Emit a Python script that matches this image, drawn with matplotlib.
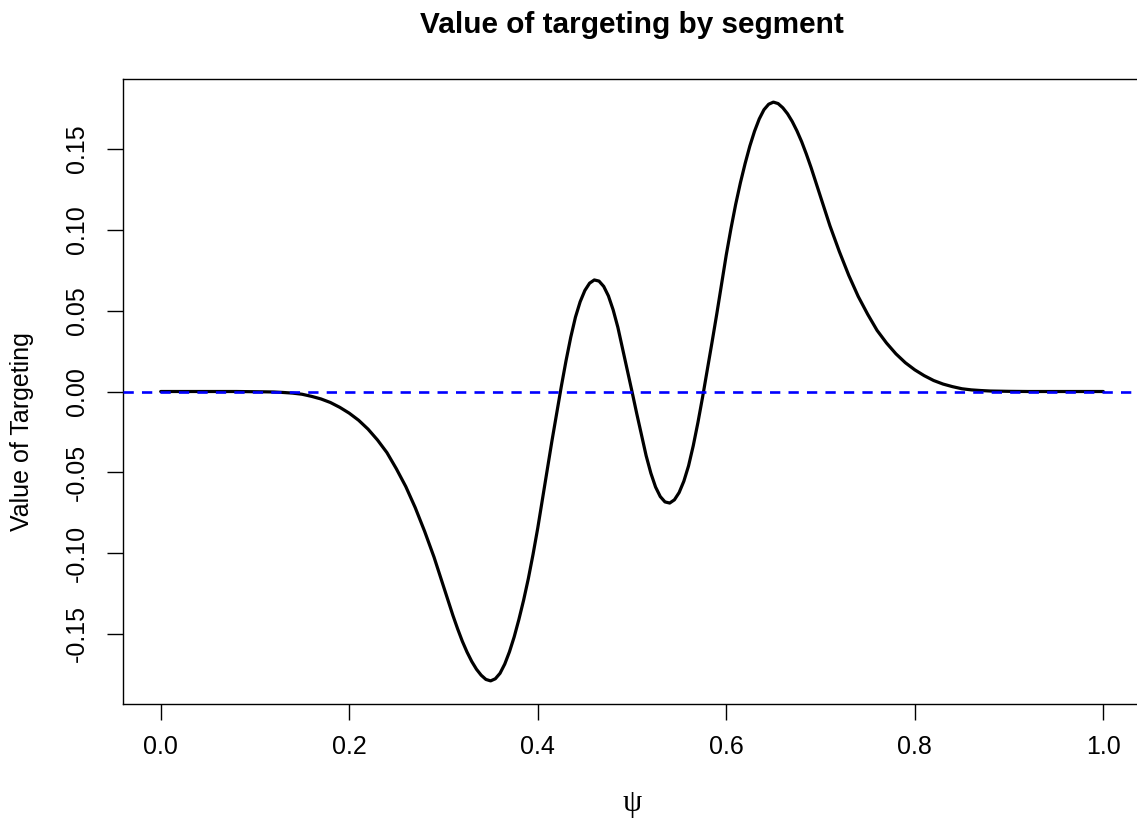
import matplotlib
matplotlib.use("Agg")
import matplotlib.pyplot as plt

plt.rcParams["font.family"] = ["Liberation Sans", "DejaVu Sans"]
plt.rcParams["axes.unicode_minus"] = False

# Segment position psi and the value of targeting at that position
psi = [0.00, 0.02, 0.04, 0.06, 0.08, 0.10, 0.11, 0.12, 0.13, 0.14,
       0.15, 0.16, 0.17, 0.18, 0.19, 0.20, 0.21, 0.22, 0.23, 0.24,
       0.25, 0.26, 0.27, 0.28, 0.29, 0.30, 0.305, 0.31, 0.315, 0.32,
       0.325, 0.33, 0.335, 0.34, 0.345, 0.35, 0.355, 0.36, 0.365, 0.37,
       0.375, 0.38, 0.385, 0.39, 0.395, 0.40, 0.405, 0.41, 0.415, 0.42,
       0.425, 0.43, 0.435, 0.44, 0.445, 0.45, 0.455, 0.46, 0.465, 0.47,
       0.475, 0.48, 0.485, 0.49, 0.495, 0.50,
       0.505, 0.51, 0.515, 0.52, 0.525, 0.53, 0.535, 0.54, 0.545, 0.55,
       0.555, 0.56, 0.565, 0.57, 0.575, 0.58, 0.585, 0.59, 0.595, 0.60,
       0.605, 0.61, 0.615, 0.62, 0.625, 0.63, 0.635, 0.64, 0.645, 0.65,
       0.655, 0.66, 0.665, 0.67, 0.675, 0.68, 0.685, 0.69, 0.695, 0.70,
       0.71, 0.72, 0.73, 0.74, 0.75, 0.76, 0.77, 0.78, 0.79, 0.80,
       0.81, 0.82, 0.83, 0.84, 0.85, 0.86, 0.87, 0.88, 0.89, 0.90,
       0.92, 0.94, 0.96, 0.98, 1.00]

value = [0.0, 0.0, 0.0, 0.0, 0.0, -0.0001, -0.0002, -0.0003, -0.0006, -0.0010,
         -0.0017, -0.0030, -0.0046, -0.0068, -0.0098, -0.0134, -0.0178, -0.0233, -0.0300, -0.0378,
         -0.0478, -0.0588, -0.0718, -0.0865, -0.1025, -0.1205, -0.1296, -0.1385, -0.1468, -0.1545,
         -0.1612, -0.1670, -0.1718, -0.1755, -0.1781, -0.1790, -0.1777, -0.1743, -0.1686, -0.1610,
         -0.1518, -0.1410, -0.1291, -0.1158, -0.1008, -0.0845, -0.0665, -0.0482, -0.0308, -0.0138,
         0.0031, 0.0190, 0.0335, 0.0460, 0.0555, 0.0625, 0.0670, 0.0690, 0.0683, 0.0650,
         0.0591, 0.0505, 0.0397, 0.0265, 0.0136, 0.0,
         -0.0136, -0.0265, -0.0397, -0.0505, -0.0591, -0.0650, -0.0683, -0.0690, -0.0670, -0.0625,
         -0.0555, -0.0460, -0.0335, -0.0190, -0.0031, 0.0138, 0.0308, 0.0482, 0.0665, 0.0845,
         0.1008, 0.1158, 0.1291, 0.1410, 0.1518, 0.1610, 0.1686, 0.1743, 0.1777, 0.1790,
         0.1781, 0.1755, 0.1718, 0.1670, 0.1612, 0.1545, 0.1468, 0.1385, 0.1296, 0.1205,
         0.1025, 0.0865, 0.0718, 0.0588, 0.0478, 0.0378, 0.0300, 0.0233, 0.0178, 0.0134,
         0.0098, 0.0068, 0.0046, 0.0030, 0.0017, 0.0010, 0.0006, 0.0003, 0.0002, 0.0001,
         0.0, 0.0, 0.0, 0.0, 0.0]

x_ticks = [0.0, 0.2, 0.4, 0.6, 0.8, 1.0]
x_tick_labels = ["0.0", "0.2", "0.4", "0.6", "0.8", "1.0"]
y_ticks = [-0.15, -0.10, -0.05, 0.00, 0.05, 0.10, 0.15]
y_tick_labels = ["-0.15", "-0.10", "-0.05", "0.00", "0.05", "0.10", "0.15"]

W, H = 1137, 823
fig = plt.figure(figsize=(W / 100, H / 100), dpi=100)
ax = fig.add_axes([123 / W, (H - 704) / H, (1141 - 123) / W, (704 - 79) / H])

ax.plot(psi, value, color="black", lw=2.3, zorder=2,
        solid_joinstyle="round", solid_capstyle="round")
ax.axhline(0.0, color="#0000FF", lw=1.9, dashes=(3.9, 3.1), zorder=3)

ax.set_xlim(-0.04, 1.04)
ax.set_ylim(-0.1933, 0.1933)

ax.set_xticks(x_ticks)
ax.set_xticklabels(x_tick_labels)
ax.set_yticks(y_ticks)
ax.set_yticklabels(y_tick_labels)
ax.tick_params(axis="both", direction="out", length=11.3, width=1.0,
               labelsize=18, colors="black")
ax.tick_params(axis="x", pad=10.8)
ax.tick_params(axis="y", pad=13)
for lbl in ax.get_yticklabels():
    lbl.set_rotation(90)
    lbl.set_va("center")
    lbl.set_ha("right")

for sp in ax.spines.values():
    sp.set_linewidth(1.0)
    sp.set_color("black")

fig.text(632 / W, 1 - 33.3 / H, "Value of targeting by segment",
         ha="center", va="baseline", fontsize=21.4, fontweight="bold")
fig.text(632 / W, 1 - 803 / H, "\u03c8", ha="center", va="center",
         fontsize=22, family=["Liberation Serif", "DejaVu Serif"])
fig.text(22.5 / W, 391.5 / H, "Value of Targeting", ha="center", va="center",
         rotation=90, fontsize=18)

fig.savefig("out.png", dpi=100)
